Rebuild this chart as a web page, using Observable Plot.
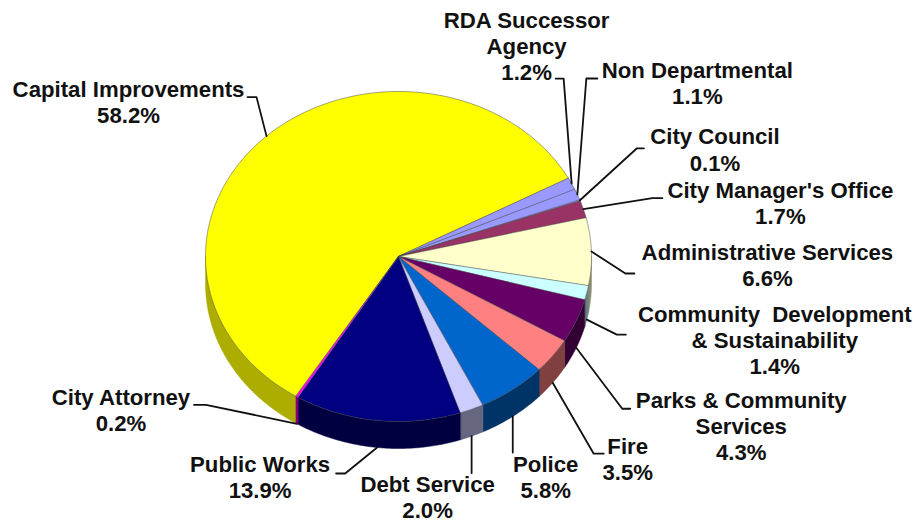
<!DOCTYPE html>
<html>
<head>
<meta charset="utf-8">
<style>html,body{margin:0;padding:0;background:#fff}svg{display:block}</style>
<script src="https://cdn.jsdelivr.net/npm/d3@7"></script>
<script src="https://cdn.jsdelivr.net/npm/@observablehq/plot@0.6"></script>
</head>
<body>
<div id="chart"></div>
<script>
// Data, clockwise from the Capital Improvements slice
const categories = ["Capital Improvements","RDA Successor\nAgency","Non Departmental","City Council","City Manager's Office","Administrative Services","Community  Development\n& Sustainability","Parks & Community\nServices","Fire","Police","Debt Service","Public Works","City Attorney"];
const shares = [58.2,1.2,1.1,0.1,1.7,6.6,1.4,4.3,3.5,5.8,2.0,13.9,0.2];
const topColors = ["#FFFF00","#9999FF","#9999FF","#9999FF","#993366","#FFFFCC","#CCFFFF","#660066","#FF8080","#0066CC","#CCCCFF","#000080","#FF00FF"];
const wallColors = ["#ADAD00","#666699","#666699","#666699","#662244","#8C8C70","#668080","#330033","#804040","#003366","#666680","#000040","#800080"];

// Layout: label and leader offsets in pixels, relative to each slice's rim anchor
const labelOffsets = [[-138,-57.5],[-45,-174.5],[120,-135.5],[135,-74.5],[197,-29.5],[176,-10.5],[188,-16.5],[165,41.5],[75,52.5],[33,36.5],[-44,37],[-117,5.5],[-176,-37.5]];
const elbowOffsets = [[-10,-39],[-8,-105],[9,-116],[57,-52],[69,-11],[34,22],[30,15],[46,61],[41,71],[0,36],[0,37],[-32,26],[-91,-19]];
const endOffsets = [[-19,-39],[-16,-105],[20,-116],[64,-52],[79,-11],[43,22],[39,15],[54,61],[51,71],[0,36],[0,37],[-41,26],[-103,-19]];

const cx = 398, cy = 256, rx = 193, ry = 165, depth = 27, startDeg = 212.1;
const rad = d => d * Math.PI / 180;
const rim = deg => [cx + rx * Math.sin(rad(deg)), cy - ry * Math.cos(rad(deg))];

const total = d3.sum(shares);
let acc = startDeg;
const slices = categories.map((name, i) => {
  const a0 = acc, a1 = acc + shares[i] / total * 360;
  acc = a1;
  return {name, i, a0, a1, mid: (a0 + a1) / 2};
});

function arc(a0, a1) {
  const n = Math.max(2, Math.ceil((a1 - a0) * 2));
  return d3.range(n + 1).map(k => rim(a0 + (a1 - a0) * k / n));
}

// top faces
const topRows = slices.flatMap(s =>
  [[cx, cy], ...arc(s.a0, s.a1)].map(([x, y]) => ({x, y, z: s.i, c: topColors[s.i]})));

// side wall: only the front half (90..270 deg, including wrap) is visible
const wallRows = [];
slices.forEach(s => {
  for (const shift of [0, 360]) {
    const a0 = Math.max(s.a0, 90 + shift), a1 = Math.min(s.a1, 270 + shift);
    if (a1 <= a0) continue;
    const up = arc(a0, a1), down = up.map(([x, y]) => [x, y + depth]).reverse();
    [...up, ...down].forEach(([x, y]) => wallRows.push({x, y, z: s.i + "-" + shift, c: wallColors[s.i]}));
  }
});

// anchors for labels
const anchors = slices.map(s => {
  const [x, y] = rim(s.mid);
  return [x, y + (Math.cos(rad(s.mid)) < 0 ? depth : 0)];
});
const leaderRows = slices.flatMap(s => {
  const [x, y] = anchors[s.i];
  const e = elbowOffsets[s.i], f = endOffsets[s.i];
  return [[x, y], [x + e[0], y + e[1]], [x + f[0], y + f[1]]].map(([px, py]) => ({x: px, y: py, z: s.i}));
});
const labelRows = slices.map(s => ({
  x: anchors[s.i][0] + labelOffsets[s.i][0],
  y: anchors[s.i][1] + labelOffsets[s.i][1],
  t: s.name + "\n" + shares[s.i].toFixed(1) + "%"
}));

const chart = Plot.plot({
  width: 913, height: 523, margin: 0,
  x: {domain: [0, 913], range: [0, 913], axis: null},
  y: {domain: [0, 523], range: [0, 523], axis: null},
  color: {type: "identity"},
  marks: [
    Plot.line(wallRows, {x: "x", y: "y", z: "z", fill: "c", stroke: "c", strokeWidth: 0.5, curve: "linear-closed"}),
    Plot.line(topRows, {x: "x", y: "y", z: "z", fill: "c", stroke: "#444", strokeWidth: 0.5, curve: "linear-closed"}),
    Plot.line(leaderRows, {x: "x", y: "y", z: "z", stroke: "#111", strokeWidth: 1.8, curve: "linear"}),
    Plot.text(labelRows, {x: "x", y: "y", text: "t", lineAnchor: "top", lineHeight: 1.18, textAnchor: "middle", fontSize: 22.2, fontWeight: "bold", fontFamily: "Liberation Sans", fill: "#111"})
  ]
});
document.getElementById("chart").append(chart);
</script>
</body>
</html>
